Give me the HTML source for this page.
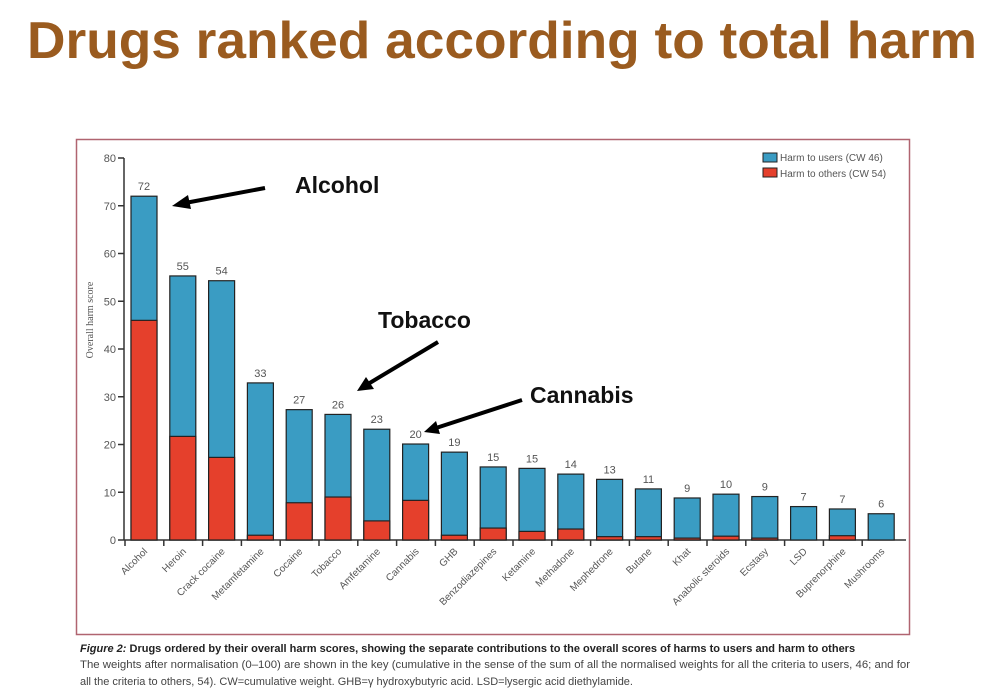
<!DOCTYPE html>
<html><head><meta charset="utf-8"><style>body{margin:0;background:#fff}svg{display:block}</style></head>
<body>
<svg width="1000" height="696" viewBox="0 0 1000 696" xmlns="http://www.w3.org/2000/svg" font-family="Liberation Sans, sans-serif">
<text x="27" y="58" font-size="52" font-weight="bold" fill="#9a5b1f" textLength="950" lengthAdjust="spacingAndGlyphs">Drugs ranked according to total harm</text>
<rect x="76.5" y="139.5" width="833" height="495" fill="#fff" stroke="#b06470" stroke-width="1.5"/>
<g stroke="#333" stroke-width="1.5" fill="none">
<line x1="124" y1="158" x2="124" y2="540"/>
<line x1="124" y1="540" x2="906" y2="540"/>
</g>
<text x="93" y="320" text-anchor="middle" transform="rotate(-90 93 320)" font-size="10" fill="#555" font-family="Liberation Serif, serif">Overall harm score</text>
<g stroke="#000" stroke-width="4" fill="#000">
<line x1="265" y1="188" x2="185" y2="203"/><polygon points="172,206 188,195 191,209" stroke="none"/>
<line x1="438" y1="342" x2="368" y2="384"/><polygon points="357,391 366,377 374,389" stroke="none"/>
<line x1="522" y1="400" x2="436" y2="428"/><polygon points="424,432 436,421 440,434" stroke="none"/>
</g>
<g font-size="23" font-weight="bold" fill="#111">
<text x="295" y="193">Alcohol</text>
<text x="378" y="328">Tobacco</text>
<text x="530" y="403">Cannabis</text>
</g>
<rect x="763" y="153" width="14" height="9" fill="#3a9cc3" stroke="#222"/>
<rect x="763" y="168" width="14" height="9" fill="#e5402c" stroke="#222"/>
<g font-size="10" fill="#555"><text x="780" y="161">Harm to users (CW 46)</text><text x="780" y="177">Harm to others (CW 54)</text></g>
<text x="80" y="652" font-size="11" fill="#222" font-weight="bold"><tspan font-style="italic">Figure 2:</tspan> Drugs ordered by their overall harm scores, showing the separate contributions to the overall scores of harms to users and harm to others</text>
<text x="80" y="668" font-size="11" fill="#444" textLength="830" lengthAdjust="spacingAndGlyphs">The weights after normalisation (0–100) are shown in the key (cumulative in the sense of the sum of all the normalised weights for all the criteria to users, 46; and for</text>
<text x="80" y="685" font-size="11" fill="#444">all the criteria to others, 54). CW=cumulative weight. GHB=γ hydroxybutyric acid. LSD=lysergic acid diethylamide.</text>
<g id="gen"></g>
</svg>
<script>
var d=[["Alcohol",72,46,"72"],["Heroin",55.3,21.7,"55"],["Crack cocaine",54.3,17.3,"54"],["Metamfetamine",32.9,1,"33"],["Cocaine",27.3,7.8,"27"],["Tobacco",26.3,9,"26"],["Amfetamine",23.2,4,"23"],["Cannabis",20.1,8.3,"20"],["GHB",18.4,1,"19"],["Benzodiazepines",15.3,2.5,"15"],["Ketamine",15,1.8,"15"],["Methadone",13.8,2.3,"14"],["Mephedrone",12.7,0.7,"13"],["Butane",10.7,0.7,"11"],["Khat",8.8,0.4,"9"],["Anabolic steroids",9.6,0.8,"10"],["Ecstasy",9.1,0.4,"9"],["LSD",7,0,"7"],["Buprenorphine",6.5,0.9,"7"],["Mushrooms",5.5,0,"6"]];
var s="",k=4.775,y0=540;
for(var v=0;v<=80;v+=10){var y=y0-v*k;s+='<line x1="118" y1="'+y+'" x2="124" y2="'+y+'" stroke="#333" stroke-width="1.5"/><text x="116" y="'+(y+4)+'" font-size="11" fill="#555" text-anchor="end">'+v+'</text>';}
for(var i=0;i<d.length;i++){var x=131+i*38.8,t=d[i][1]*k,r=d[i][2]*k,cx=x+13;
s+='<rect x="'+x+'" y="'+(y0-t)+'" width="26" height="'+t+'" fill="#3a9cc3" stroke="#222" stroke-width="1.2"/>';
if(r>0)s+='<rect x="'+x+'" y="'+(y0-r)+'" width="26" height="'+r+'" fill="#e5402c" stroke="#222" stroke-width="1.2"/>';
s+='<text x="'+cx+'" y="'+(y0-t-6)+'" font-size="11" fill="#555" text-anchor="middle">'+d[i][3]+'</text>';
s+='<line x1="'+(x-6)+'" y1="540" x2="'+(x-6)+'" y2="546" stroke="#333" stroke-width="1.5"/>';
s+='<text x="'+(cx+4)+'" y="552" font-size="10" fill="#555" text-anchor="end" transform="rotate(-45 '+(cx+4)+' 552)">'+d[i][0]+'</text>';}
document.getElementById("gen").innerHTML=s;
</script>
</body></html>
